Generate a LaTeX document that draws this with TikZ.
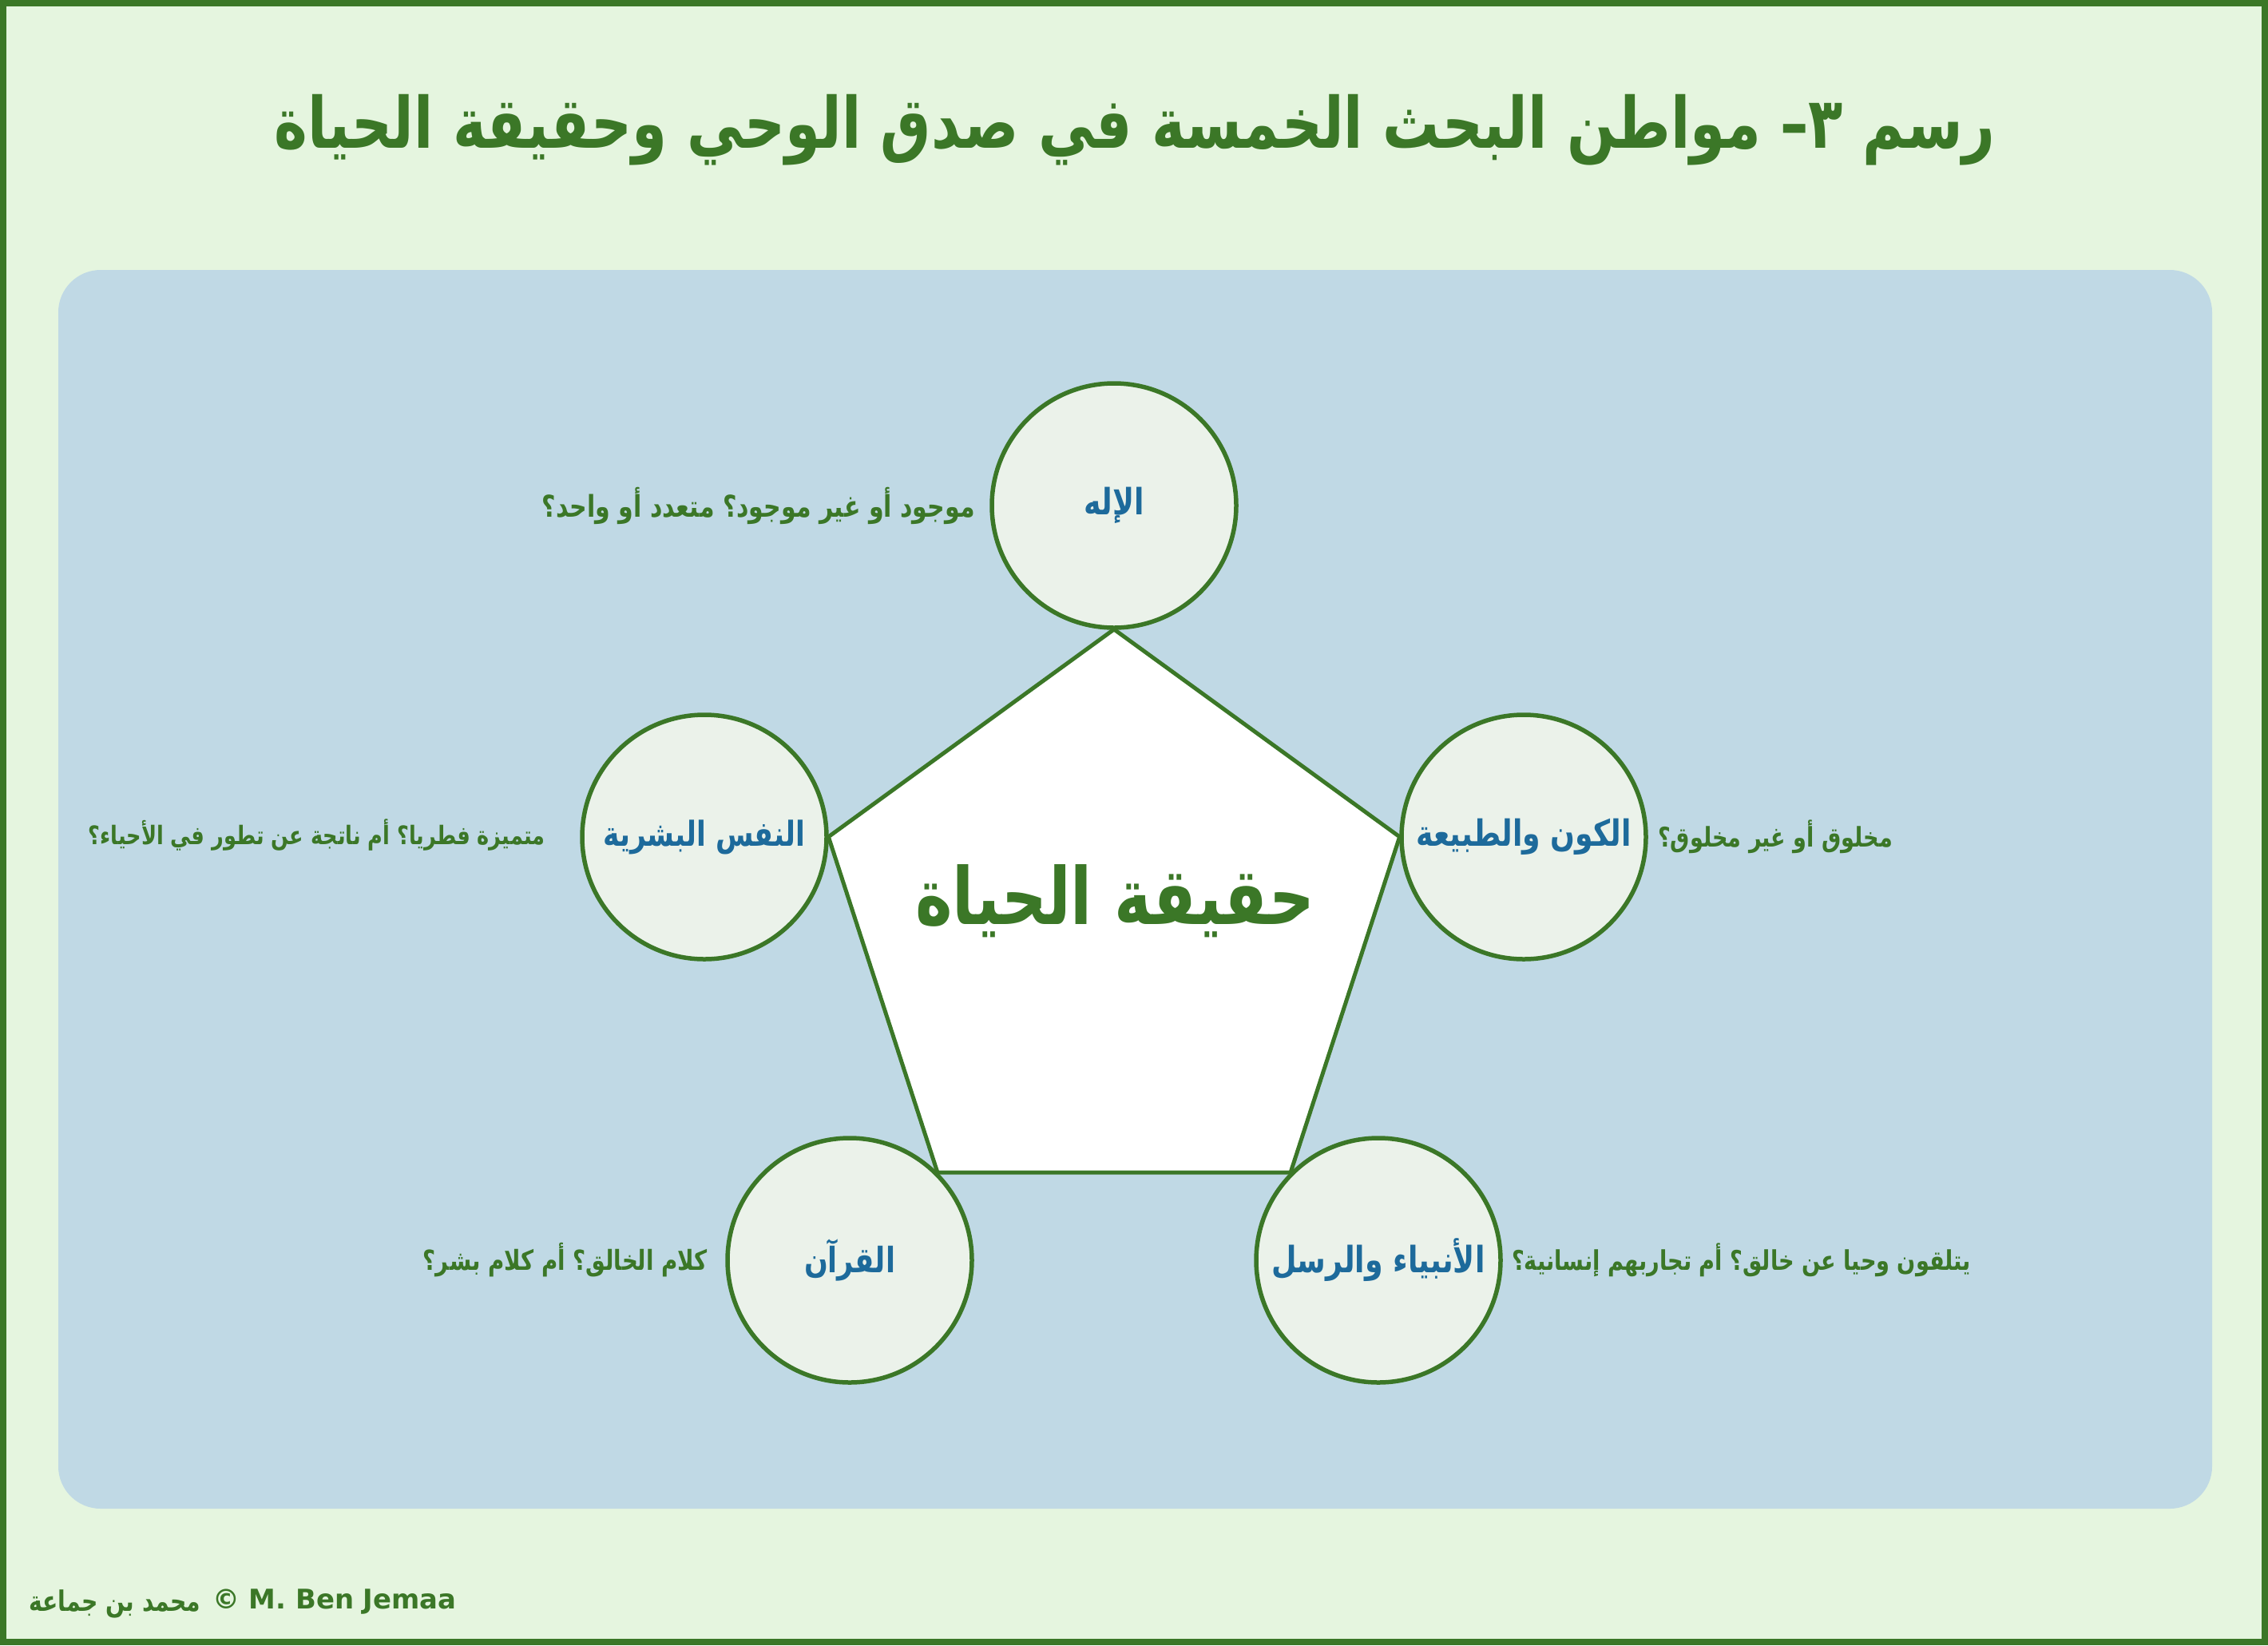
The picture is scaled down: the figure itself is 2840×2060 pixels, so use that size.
\documentclass[tikz,border=0pt]{standalone}
\usepackage{fontspec}
\usepackage{graphicx}
\TeXXeTstate=1
\newfontfamily\arabicfont[Script=Arabic]{DejaVu Sans}
\newfontfamily\latinsans{DejaVu Sans}
\definecolor{bgc}{HTML}{E5F5DF}
\definecolor{gr}{HTML}{3B7727}
\definecolor{panel}{HTML}{C0D9E5}
\definecolor{cfill}{HTML}{EBF2EA}
\definecolor{bl}{HTML}{1D6A9B}
\newcommand{\artext}[2]{\scalebox{1}[1.25]{\resizebox{#1}{!}{\fontsize{40}{48}\selectfont\arabicfont\bfseries #2}}}
\tikzset{
  circ/.style={circle, draw=gr, line width=5.5bp, fill=cfill, minimum size=306bp, inner sep=0pt, text=bl},
  ques/.style={text=gr, inner sep=0pt},
}
\begin{document}
\begin{tikzpicture}[x=1bp,y=-1bp]
\useasboundingbox (0,0) rectangle (2840,2060);
\fill[bgc] (0,0) rectangle (2840,2060);
\draw[gr, line width=8bp] (4,4) rectangle (2836,2056);
% title
\node[text=gr, inner sep=0pt] (title) at (1421,163) {\artext{2155bp}{\beginR رسم ٣– مواطن البحث الخمسة في صدق الوحي وحقيقة الحياة\endR}};
% panel
\fill[panel, rounded corners=53bp] (73,338) rectangle (2770,1889);
% pentagon
\coordinate (vt) at (1395,788);
\coordinate (vr) at (1752.6,1047.8);
\coordinate (vbr) at (1616,1468.2);
\coordinate (vbl) at (1174,1468.2);
\coordinate (vl) at (1037.4,1047.8);
\filldraw[fill=white, draw=gr, line width=5bp, line join=miter] (vt) -- (vr) -- (vbr) -- (vbl) -- (vl) -- cycle;
\node[text=gr, inner sep=0pt] (center) at (1396,1128) {\artext{500bp}{\beginR حقيقة الحياة\endR}};
% circles
\node[circ] (ilah) at (1395,633) {\artext{75bp}{\beginR الإله\endR}};
\node[circ] (kawn) at (1908,1048) {\artext{269bp}{\beginR الكون والطبيعة\endR}};
\node[circ] (nafs) at (882,1048) {\artext{253bp}{\beginR النفس البشرية\endR}};
\node[circ] (quran) at (1064,1578) {\artext{114bp}{\beginR القرآن\endR}};
\node[circ] (anbiya) at (1726,1578) {\artext{267bp}{\beginR الأنبياء والرسل\endR}};
% questions
\node[ques, anchor=east] (q1) at (1221,633) {\artext{542bp}{\beginR موجود أو غير موجود؟ متعدد أو واحد؟\endR}};
\node[ques, anchor=east] (q2) at (683,1046) {\artext{572bp}{\beginR متميزة فطريا؟ أم ناتجة عن تطور في الأحياء؟\endR}};
\node[ques, anchor=west] (q3) at (2076,1048) {\artext{294bp}{\beginR مخلوق أو غير مخلوق؟\endR}};
\node[ques, anchor=east] (q4) at (886,1578) {\artext{356bp}{\beginR كلام الخالق؟ أم كلام بشر؟\endR}};
\node[ques, anchor=west] (q5) at (1893,1578) {\artext{575bp}{\beginR يتلقون وحيا عن خالق؟ أم تجاربهم إنسانية؟\endR}};
% footer
\node[ques, anchor=west] (fa) at (36,2008) {\artext{215bp}{\beginR محمد بن جماعة\endR}};
\node[text=gr, inner sep=0pt, anchor=west] (fl) at (266,2006) {\fontsize{34}{40}\selectfont\latinsans\bfseries © M. Ben Jemaa};
\end{tikzpicture}
\end{document}
